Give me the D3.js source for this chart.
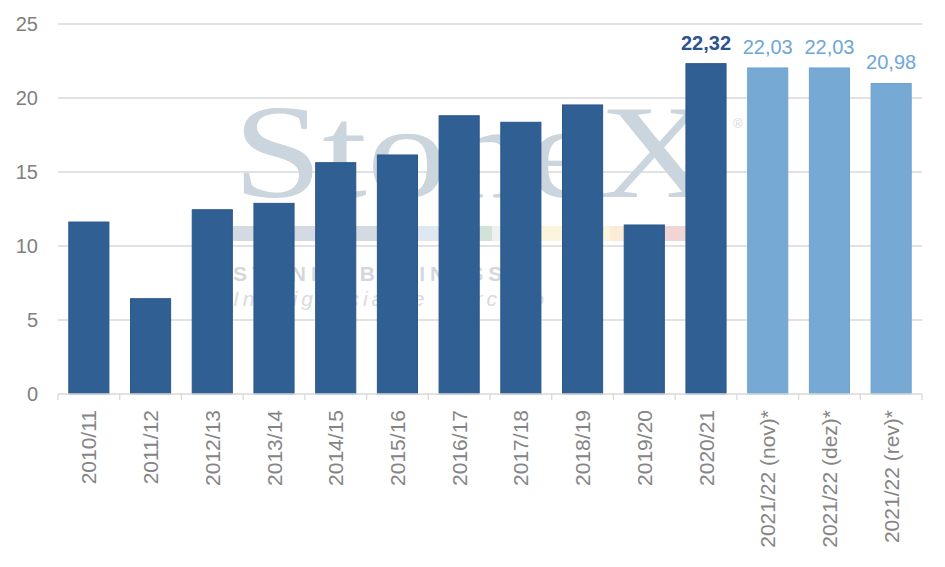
<!DOCTYPE html>
<html>
<head>
<meta charset="utf-8">
<script src="https://cdn.jsdelivr.net/npm/d3@7"></script>
<style>
  body { margin: 0; background: #fff; }
  svg { display: block; }
</style>
</head>
<body>
<svg id="chart"></svg>
<script>
// safras
var categories = ["2010/11", "2011/12", "2012/13", "2013/14", "2014/15", "2015/16", "2016/17",
    "2017/18", "2018/19", "2019/20", "2020/21", "2021/22 (nov)*", "2021/22 (dez)*", "2021/22 (rev)*"];
var values = [11.62, 6.44, 12.45, 12.88, 15.63, 16.15, 18.8, 18.36, 19.53, 11.42, 22.32, 22.03, 22.03, 20.98];
// true = estimativa (barra clara)
var estimates = [false, false, false, false, false, false, false, false, false, false, false, true, true, true];
// quais barras levam rotulo de valor
var labeled = [false, false, false, false, false, false, false, false, false, false, true, true, true, true];
var yTicks = [0, 5, 10, 15, 20, 25];

var width = 945, height = 567;
var plotLeft = 58, plotRight = 922, plotTop = 24, plotBottom = 394;

var svg = d3.select("#chart").attr("width", width).attr("height", height);

var x = d3.scaleBand().domain(categories).range([plotLeft, plotRight]).paddingInner(0.35).paddingOuter(0.175);
var y = d3.scaleLinear().domain([0, 25]).range([plotBottom, plotTop]);

// grid
svg.append("g").selectAll("line")
    .data(yTicks.slice(1))
    .enter().append("line")
    .attr("x1", plotLeft).attr("x2", plotRight)
    .attr("y1", function(d) { return y(d); }).attr("y2", function(d) { return y(d); })
    .attr("stroke", "#d9d9d9").attr("stroke-width", 1.3);

// watermark (logo StoneX ao fundo)
var wm = svg.append("g").attr("class", "watermark");
wm.append("text")
    .attr("x", 233).attr("y", 197)
    .attr("font-family", "'Liberation Serif', 'DejaVu Serif', serif")
    .attr("font-size", 134)
    .attr("textLength", 482).attr("lengthAdjust", "spacingAndGlyphs")
    .attr("fill", "#cbd5de")
    .text("StoneX");
wm.append("text")
    .attr("x", 733).attr("y", 128)
    .attr("font-family", "'Liberation Sans', sans-serif").attr("font-size", 13)
    .attr("fill", "#d4dbe2").text("®");
var stripe = [
    {x0: 233, x1: 400, c: "#d3dae2"}, {x0: 400, x1: 470, c: "#dfe8f1"},
    {x0: 470, x1: 492, c: "#d3e2d6"}, {x0: 492, x1: 533, c: "#eef1f2"},
    {x0: 533, x1: 610, c: "#fbf5dc"}, {x0: 610, x1: 650, c: "#fcecd6"},
    {x0: 650, x1: 717, c: "#f1d5d5"}];
wm.append("g").selectAll("rect").data(stripe).enter().append("rect")
    .attr("x", function(d) { return d.x0; }).attr("width", function(d) { return d.x1 - d.x0; })
    .attr("y", 226).attr("height", 15)
    .attr("fill", function(d) { return d.c; });
wm.append("text")
    .attr("x", 233).attr("y", 281)
    .attr("font-family", "'Liberation Sans', sans-serif").attr("font-size", 21)
    .attr("font-weight", "bold").attr("letter-spacing", 5)
    .attr("fill", "#d3d7dc").text("STONEX BUSINESS");
wm.append("text")
    .attr("x", 233).attr("y", 306)
    .attr("font-family", "'Liberation Sans', sans-serif").attr("font-size", 21)
    .attr("font-style", "italic").attr("letter-spacing", 4)
    .attr("fill", "#d8dbdf").text("Inteligência de Mercado");

// bars
svg.append("g").selectAll("rect")
    .data(values)
    .enter().append("rect")
    .attr("x", function(d, i) { return x(categories[i]); })
    .attr("width", x.bandwidth())
    .attr("y", function(d) { return y(d); })
    .attr("height", function(d) { return y(0) - y(d); })
    .attr("fill", function(d, i) { return estimates[i] ? "#76aad4" : "#305f94"; })
    .attr("stroke", function(d, i) { return estimates[i] ? "#6fa3cf" : "#2c5789"; })
    .attr("stroke-width", 1);

// value labels
svg.append("g").selectAll("text")
    .data(values.map(function(v, i) { return {v: v, i: i}; }).filter(function(d) { return labeled[d.i]; }))
    .enter().append("text")
    .attr("x", function(d) { return x(categories[d.i]) + x.bandwidth() / 2; })
    .attr("y", function(d) { return y(d.v) - 14; })
    .attr("text-anchor", "middle")
    .attr("font-family", "'Liberation Sans', Arial, sans-serif")
    .attr("font-size", 20)
    .attr("font-weight", function(d) { return estimates[d.i] ? "normal" : "bold"; })
    .attr("fill", function(d) { return estimates[d.i] ? "#6ea6d8" : "#2d5490"; })
    .text(function(d) { return d.v.toFixed(2).replace(".", ","); });

// y axis labels
svg.append("g").selectAll("text")
    .data(yTicks)
    .enter().append("text")
    .attr("x", 38)
    .attr("y", function(d) { return y(d); })
    .attr("dy", "0.36em")
    .attr("text-anchor", "end")
    .attr("font-family", "'Liberation Sans', Arial, sans-serif")
    .attr("font-size", 20)
    .attr("fill", "#7f7f7f")
    .text(function(d) { return d; });

// x axis: line, ticks at band edges, rotated labels
var xa = svg.append("g");
xa.append("line")
    .attr("x1", plotLeft).attr("x2", plotRight).attr("y1", y(0)).attr("y2", y(0))
    .attr("stroke", "#d9d9d9").attr("stroke-width", 1.3);
var edges = categories.map(function(c) { return x(c) - x.step() * x.paddingInner() / 2; });
edges.push(plotRight);
xa.selectAll("line.tick").data(edges).enter().append("line")
    .attr("class", "tick")
    .attr("x1", function(d) { return d; }).attr("x2", function(d) { return d; })
    .attr("y1", y(0)).attr("y2", y(0) + 6)
    .attr("stroke", "#d9d9d9").attr("stroke-width", 1.3);
xa.selectAll("text").data(categories).enter().append("text")
    .attr("transform", function(d) {
        return "translate(" + (x(d) + x.bandwidth() / 2) + "," + 410 + ") rotate(-90)";
    })
    .attr("dy", "0.36em")
    .attr("text-anchor", "end")
    .attr("font-family", "'Liberation Sans', Arial, sans-serif")
    .attr("font-size", 21)
    .attr("fill", "#858585")
    .text(function(d) { return d; });
</script>
</body>
</html>
